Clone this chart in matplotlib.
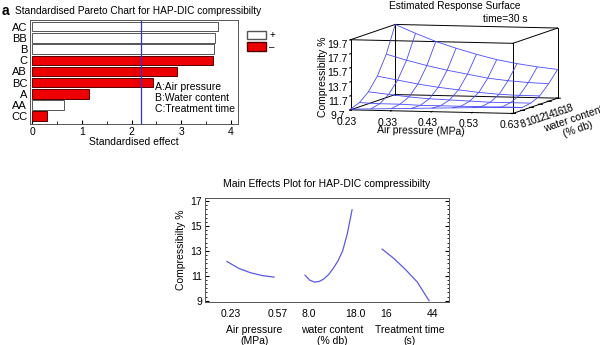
import matplotlib
matplotlib.use('Agg')
import matplotlib.pyplot as plt
import numpy as np
from matplotlib.patches import Patch
from matplotlib.ticker import MultipleLocator

plt.rcParams['font.family'] = ['Liberation Sans', 'DejaVu Sans']
plt.rcParams['font.size'] = 7

# Pareto chart data
effects = ['AC', 'BB', 'B', 'C', 'AB', 'BC', 'A', 'AA', 'CC']
effect_values = [3.75, 3.68, 3.66, 3.64, 2.92, 2.44, 1.15, 0.63, 0.29]
effect_signs = ['+', '+', '+', '-', '-', '-', '-', '+', '-']
critical_value = 2.2

# response surface (time = 30 s)
surf_pressure = [0.23, 0.28, 0.33, 0.38, 0.43, 0.48, 0.53, 0.58, 0.63]
surf_water = [8, 10, 12, 14, 16, 18]
surf_z = [
    [9.8, 9.9, 10.0, 10.1, 10.2, 10.3, 10.4, 10.5, 10.6],
    [10.3, 10.2, 10.2, 10.1, 10.1, 10.1, 10.1, 10.1, 10.1],
    [11.4, 11.1, 10.8, 10.6, 10.5, 10.4, 10.3, 10.3, 10.3],
    [13.2, 12.7, 12.2, 11.8, 11.5, 11.2, 11.0, 10.9, 10.9],
    [15.9, 15.1, 14.4, 13.8, 13.3, 12.8, 12.5, 12.3, 12.2],
    [19.7, 18.5, 17.4, 16.5, 15.7, 15.0, 14.5, 14.1, 13.8],
]

# main effects
ap_levels = [0.23, 0.315, 0.40, 0.485, 0.57]
ap_effect = [12.15, 11.6, 11.25, 11.02, 10.9]
wc_levels = [8, 9, 10, 11, 12, 13, 14, 15, 16, 17, 18]
wc_effect = [11.05, 10.65, 10.5, 10.55, 10.75, 11.1, 11.6, 12.2, 13.0, 14.4, 16.3]
tt_levels = [16, 23, 30, 37, 44]
tt_effect = [13.15, 12.4, 11.5, 10.5, 9.0]

fig = plt.figure(figsize=(6, 3.45), dpi=100)

# ---------- Pareto chart ----------
ax1 = fig.add_axes([30/600, 1-124/345, 208/600, 104/345])
ypos = np.arange(len(effects))
colors = ['white' if s == '+' else '#ee0000' for s in effect_signs]
edges = ['#555555' if s == '+' else '#550000' for s in effect_signs]
ax1.barh(ypos, effect_values, height=0.85, color=colors, edgecolor=edges, linewidth=0.7)
ax1.axvline(critical_value, color='#3030e0', linewidth=0.9)
ax1.set_yticks(ypos)
ax1.set_yticklabels(effects, fontsize=8)
ax1.set_ylim(len(effects) - 0.3, -0.6)
ax1.set_xlim(-0.05, 4.15)
ax1.set_xticks([0, 1, 2, 3, 4])
ax1.tick_params(axis='y', length=0, pad=2)
ax1.tick_params(axis='x', direction='in', length=3, labelsize=7.5, pad=2)
ax1.xaxis.set_minor_locator(MultipleLocator(0.5))
ax1.tick_params(axis='x', which='minor', direction='in', length=2)
ax1.set_xlabel('Standardised effect', fontsize=7.5, labelpad=0)
for s in ax1.spines.values():
    s.set_color('#555555')
    s.set_linewidth(0.7)
ax1.text(0.60, 0.40, 'A:Air pressure\nB:Water content\nC:Treatment time',
         transform=ax1.transAxes, fontsize=7.5, va='top', ha='left', linespacing=1.1)
fig.text(15/600, 1-11/345, 'Standardised Pareto Chart for HAP-DIC compressibilty',
         fontsize=7.3, va='center', ha='left')
fig.text(2/600, 1-11/345, 'a', fontsize=10, fontweight='bold', va='center', ha='left')
fig.legend(handles=[Patch(facecolor='white', edgecolor='#555555', label='+'),
                    Patch(facecolor='#ee0000', edgecolor='#550000', label='\u2013')],
           loc='upper left', bbox_to_anchor=(243/600, 1-26/345), frameon=False,
           fontsize=7, handlelength=2.0, handleheight=0.9, handletextpad=0.3,
           labelspacing=0.2, borderaxespad=0)

# ---------- Response surface ----------
ax2 = fig.add_axes([300/600, 1-223/345, 300/600, 300/345], projection='3d')
P, W = np.meshgrid(surf_pressure, surf_water)
Z = np.array(surf_z)
ax2.plot_wireframe(P, W, Z, color='#4a4aff', linewidth=0.6)
xl, yl, zl = (0.23, 0.63), (8, 18), (9.7, 19.7)
for a in (xl[0], xl[1]):
    for b in (yl[0], yl[1]):
        ax2.plot([a, a], [b, b], zl, color='black', linewidth=0.7)
    for c in (zl[0], zl[1]):
        ax2.plot([a, a], yl, [c, c], color='black', linewidth=0.7)
for b in (yl[0], yl[1]):
    for c in (zl[0], zl[1]):
        ax2.plot(xl, [b, b], [c, c], color='black', linewidth=0.7)
ax2.set_xlim(xl)
ax2.set_ylim(yl)
ax2.set_zlim(zl)
ax2.set_xticks([0.23, 0.33, 0.43, 0.53, 0.63])
ax2.set_xticklabels(['0.23', '0.33', '0.43', '0.53', '0.63'])
ax2.set_yticks([8, 10, 12, 14, 16, 18])
ax2.set_zticks([9.7, 11.7, 13.7, 15.7, 17.7, 19.7])
ax2.set_zticklabels(['9.7', '11.7', '13.7', '15.7', '17.7', '19.7'])
ax2.set_xlabel('Air pressure (MPa)', fontsize=7.5, labelpad=5)
ax2.set_ylabel('water content\n(% db)', fontsize=7.5, labelpad=7)
ax2.set_zlabel('Compressibilty %', fontsize=7.5, labelpad=-6)
ax2.tick_params(axis='x', labelsize=7.5, pad=1)
ax2.tick_params(axis='y', labelsize=7.5, pad=-1)
ax2.tick_params(axis='z', labelsize=7.5, pad=-1)
ax2.zaxis.set_ticks_position('lower')
ax2.zaxis.set_label_position('lower')
for t in ax2.get_yticklabels():
    t.set_rotation(20)
for axis in (ax2.xaxis, ax2.yaxis, ax2.zaxis):
    axis.set_pane_color((1, 1, 1, 0))
    axis.pane.set_edgecolor('none')
    axis.line.set_linewidth(0)
ax2.grid(False)
ax2.set_proj_type('ortho')
ax2.view_init(elev=5, azim=-75.7)
ax2.set_box_aspect((1, 1.08, 0.42), zoom=0.83)
fig.text(455/600, 1-6/345, 'Estimated Response Surface', fontsize=7.3, ha='center', va='center')
fig.text(505/600, 1-19/345, 'time=30 s', fontsize=7.3, ha='center', va='center')

# ---------- Main effects ----------
ax3 = fig.add_axes([205/600, 1-302/345, 244/600, 104/345])
seg_w = 1.0
starts = [0.468, 2.128, 3.766]
line_c = '#5a5ae6'
groups = [(ap_levels, ap_effect, ['0.23', '0.57'], 'Air pressure\n(MPa)'),
          (wc_levels, wc_effect, ['8.0', '18.0'], 'water content\n(% db)'),
          (tt_levels, tt_effect, ['16', '44'], 'Treatment time\n(s)')]
tick_pos, tick_lab = [], []
for st, (lv, ef, labs, name) in zip(starts, groups):
    lv = np.array(lv, dtype=float)
    xs = st + (lv - lv[0]) / (lv[-1] - lv[0]) * seg_w
    ax3.plot(xs, ef, color=line_c, linewidth=0.9)
    tick_pos += [xs[0] + 0.08, xs[-1] + 0.08]
    tick_lab += labs
    ax3.text(st + seg_w / 2 + 0.08, -0.22, name, transform=ax3.get_xaxis_transform(),
             ha='center', va='top', fontsize=7.5, linespacing=1.2)
ax3.set_xlim(0, 5.19)
ax3.set_ylim(8.9, 17.25)
ax3.set_xticks(tick_pos)
ax3.set_xticklabels(tick_lab, fontsize=7.5)
ax3.tick_params(axis='x', length=0, pad=5)
ax3.set_yticks([9, 11, 13, 15, 17])
ax3.yaxis.set_minor_locator(MultipleLocator(1/3))
ax3.tick_params(axis='y', direction='in', length=3, right=True, labelsize=7.5, pad=2)
ax3.tick_params(axis='y', which='minor', direction='in', length=1.5, right=True)
ax3.set_ylabel('Compressibilty %', fontsize=7.5, labelpad=3)
for s in ax3.spines.values():
    s.set_color('#555555')
    s.set_linewidth(0.7)
ax3.set_title('Main Effects Plot for HAP-DIC compressibilty', fontsize=7.5, pad=8)

fig.savefig('out.png', dpi=100)
